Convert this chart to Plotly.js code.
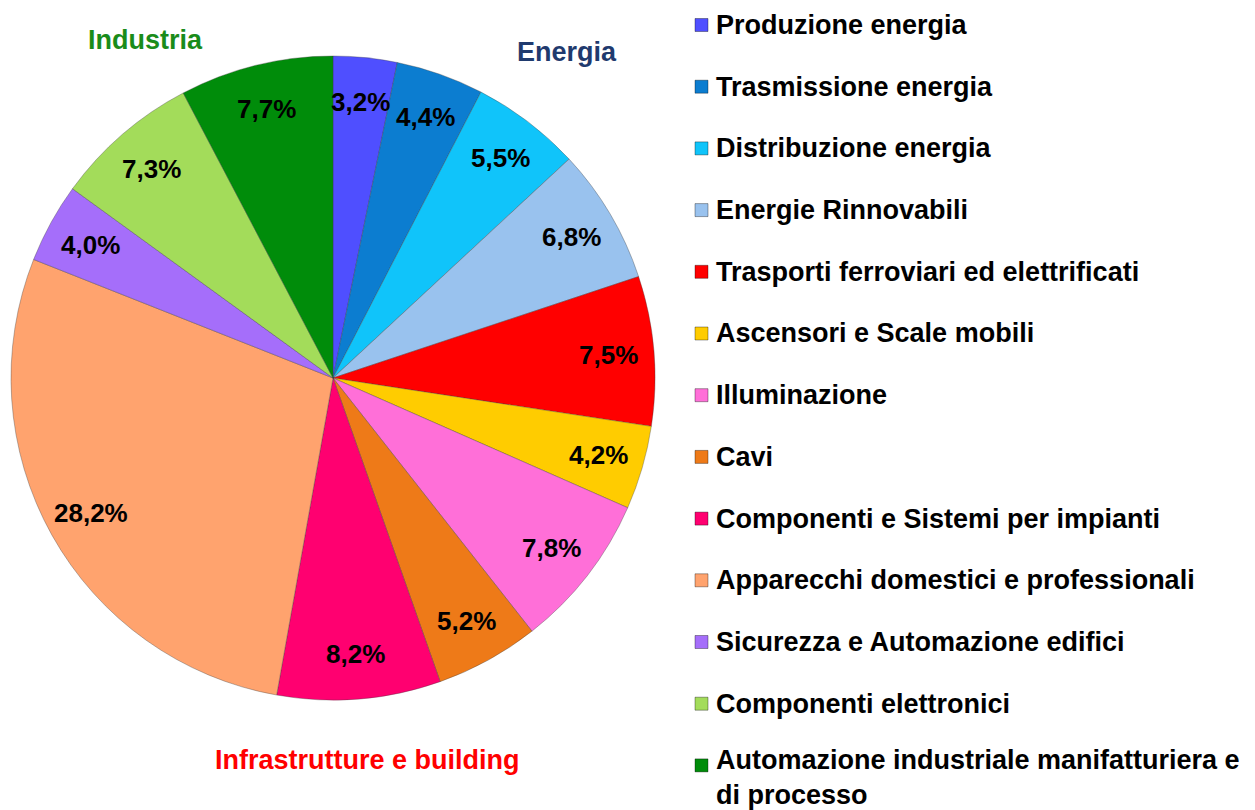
<!DOCTYPE html>
<html>
<head>
<meta charset="utf-8">
<script src="https://cdn.plot.ly/plotly-3.0.1.min.js"></script>
<style>html,body{margin:0;padding:0;background:#fff;}#chart{width:1255px;height:810px;}</style>
</head>
<body>
<div id="chart"></div>
<script>
const categories = [
  "Produzione energia",
  "Trasmissione energia",
  "Distribuzione energia",
  "Energie Rinnovabili",
  "Trasporti ferroviari ed elettrificati",
  "Ascensori e Scale mobili",
  "Illuminazione",
  "Cavi",
  "Componenti e Sistemi per impianti",
  "Apparecchi domestici e professionali",
  "Sicurezza e Automazione edifici",
  "Componenti elettronici",
  "Automazione industriale manifatturiera e<br>di processo"
];
const shares = [3.2, 4.4, 5.5, 6.8, 7.5, 4.2, 7.8, 5.2, 8.2, 28.2, 4.0, 7.3, 7.7];
const colors = ["#4F4FFF", "#0C7DD0", "#10C4FA", "#99C2EE", "#FF0000", "#FFCC00",
                "#FF6FD8", "#EE7A18", "#FF0070", "#FFA36E", "#A56EFA", "#A3DC5A", "#008C0A"];
const groupLabels = ["Energia", "Industria", "Infrastrutture e building"];
const groupColors = ["#1F3A6E", "#1A8C1A", "#FF0000"];

const W = 1255, H = 810;
const px = x => x / W;
const py = y => 1 - y / H;

const FONT = "Liberation Sans, Arial, sans-serif";

// pie geometry (pixels)
const CX = 333, CY = 378, R = 322;

const trace = {
  type: "pie",
  labels: categories,
  values: shares,
  sort: false,
  direction: "clockwise",
  rotation: 0,
  marker: { colors: colors, line: { color: "rgba(60,60,60,0.35)", width: 1 } },
  textinfo: "none",
  hoverinfo: "label+value",
  showlegend: false,
  domain: { x: [px(CX - R), px(CX + R)], y: [py(CY + R), py(CY - R)] }
};

const annotations = [];
const shapes = [];

// percentage labels placed on each slice's mid-angle (inside end)
const total = shares.reduce((a, b) => a + b, 0);
let cum = 0;
shares.forEach((v) => {
  const ang = (cum + v / 2) / total * 2 * Math.PI;
  cum += v;
  const rr = 0.86 * R;
  const x = CX + rr * Math.sin(ang);
  const y = CY - rr * Math.cos(ang);
  annotations.push({
    xref: "paper", yref: "paper", x: px(x), y: py(y),
    xanchor: "center", yanchor: "middle", showarrow: false,
    text: "<b>" + v.toFixed(1).replace(".", ",") + "%</b>",
    font: { family: FONT, size: 26, color: "#000" }
  });
});

const legendTop = 25, legendStep = 61.7;
categories.forEach((c, i) => {
  const yc = legendTop + i * legendStep;
  shapes.push({
    type: "rect", xref: "paper", yref: "paper",
    x0: px(695), x1: px(708), y0: py(yc + 6.5), y1: py(yc - 6.5),
    fillcolor: colors[i], line: { color: "rgba(0,0,0,0.35)", width: 1 }
  });
  const multi = c.indexOf("<br>") >= 0;
  annotations.push({
    xref: "paper", yref: "paper", x: px(714), y: py(multi ? yc - 22 : yc),
    xanchor: "left", yanchor: multi ? "top" : "middle", align: "left",
    text: "<b>" + c + "</b>", showarrow: false,
    font: { family: FONT, size: 27, color: "#000" }
  });
});
const groupPos = [[567, 52], [145, 40], [367, 760]];
groupLabels.forEach((g, i) => {
  annotations.push({
    xref: "paper", yref: "paper", x: px(groupPos[i][0]), y: py(groupPos[i][1]),
    xanchor: "center", yanchor: "middle", text: "<b>" + g + "</b>", showarrow: false,
    font: { family: FONT, size: 27, color: groupColors[i] }
  });
});

const layout = {
  width: W, height: H,
  margin: { l: 0, r: 0, t: 0, b: 0 },
  paper_bgcolor: "#fff",
  separators: ",.",
  showlegend: false,
  annotations: annotations,
  shapes: shapes,
  font: { family: FONT }
};

Plotly.newPlot("chart", [trace], layout, { displayModeBar: false, staticPlot: true });
</script>
</body>
</html>
